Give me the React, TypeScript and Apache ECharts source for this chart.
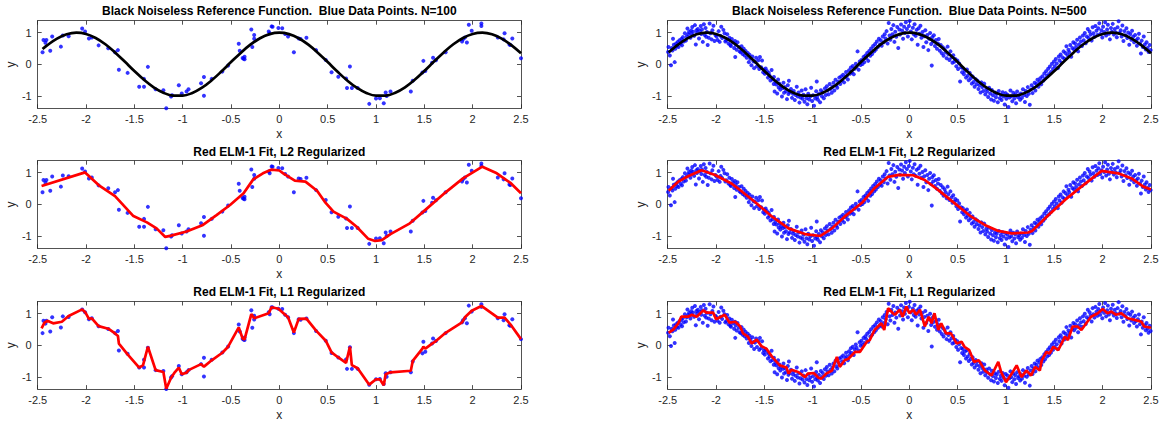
import React, { useEffect, useRef } from "react";
import * as echarts from "echarts";

// ---------- DATA ----------
const titlesLeft = [
  "Black Noiseless Reference Function.  Blue Data Points. N=100",
  "Red ELM-1 Fit, L2 Regularized",
  "Red ELM-1 Fit, L1 Regularized",
];
const titlesRight = [
  "Black Noiseless Reference Function.  Blue Data Points. N=500",
  "Red ELM-1 Fit, L2 Regularized",
  "Red ELM-1 Fit, L1 Regularized",
];
const yTickValues = [-1, 0, 1];

// noiseless reference function samples
const refCurve: [number, number][] = [
  [-2.49, 0.374], [-2.45, 0.484], [-2.4, 0.608], [-2.3, 0.815], [-2.2, 0.95], [-2.1, 1.0],
  [-2.0, 0.96], [-1.9, 0.835], [-1.8, 0.635], [-1.7, 0.378], [-1.6, 0.087], [-1.5, -0.211],
  [-1.4, -0.49], [-1.3, -0.726], [-1.2, -0.897], [-1.1, -0.987], [-1.0, -0.99], [-0.9, -0.904],
  [-0.8, -0.737], [-0.7, -0.505], [-0.6, -0.227], [-0.5, 0.071], [-0.4, 0.362], [-0.3, 0.622],
  [-0.2, 0.825], [-0.1, 0.955], [0, 1.0], [0.1, 0.955], [0.2, 0.825], [0.3, 0.622], [0.4, 0.362],
  [0.5, 0.071], [0.6, -0.227], [0.7, -0.505], [0.8, -0.737], [0.9, -0.904], [1.0, -0.99],
  [1.1, -0.987], [1.2, -0.897], [1.3, -0.726], [1.4, -0.49], [1.5, -0.211], [1.6, 0.087],
  [1.7, 0.378], [1.8, 0.635], [1.9, 0.835], [2.0, 0.96], [2.1, 1.0], [2.2, 0.95], [2.3, 0.815],
  [2.4, 0.608], [2.5, 0.347],
];

// N=100 data points
const leftPts: [number, number][] = [
  [-2.45, 0.38], [-2.44, 0.77], [-2.42, 0.68], [-2.41, 0.77], [-2.37, 0.43], [-2.35, 0.88],
  [-2.26, 0.56], [-2.24, 0.91], [-2.18, 0.89], [-2.04, 1.13], [-2.01, 1.04], [-1.97, 0.82],
  [-1.94, 0.85], [-1.87, 0.6], [-1.77, 0.51], [-1.7, 0.38], [-1.67, 0.45], [-1.66, -0.17],
  [-1.57, -0.27], [-1.45, -0.71], [-1.4, -0.71], [-1.4, -0.46], [-1.36, -0.08], [-1.28, -0.79],
  [-1.2, -0.82], [-1.17, -1.39], [-1.12, -1.02], [-1.11, -0.98], [-1.04, -0.66], [-1.01, -0.92],
  [-0.96, -0.86], [-0.94, -0.79], [-0.81, -0.6], [-0.78, -0.4], [-0.78, -0.99], [-0.7, -0.46],
  [-0.59, -0.23], [-0.53, -0.04], [-0.42, 0.65], [-0.41, 0.43], [-0.38, 0.2], [-0.37, 0.18],
  [-0.36, 0.24], [-0.36, 0.16], [-0.29, 1.1], [-0.28, 0.55], [-0.26, 0.93], [-0.26, 0.81],
  [-0.11, 1.04], [-0.1, 0.98], [-0.08, 1.2], [-0.07, 1.19], [-0.01, 1.15], [0.03, 1.14],
  [0.06, 0.96], [0.09, 0.88], [0.15, 0.38], [0.2, 0.82], [0.22, 0.8], [0.28, 0.84], [0.38, 0.45],
  [0.48, 0.14], [0.54, -0.25], [0.61, -0.39], [0.69, -0.45], [0.7, -0.75], [0.73, -0.07],
  [0.75, -0.75], [0.81, -0.75], [0.93, -1.25], [1.0, -1.08], [1.04, -1.07], [1.08, -1.23],
  [1.1, -0.89], [1.11, -1.0], [1.15, -0.86], [1.36, -0.86], [1.38, -0.52], [1.48, -0.26],
  [1.49, 0.11], [1.51, -0.21], [1.58, 0.05], [1.59, 0.21], [1.62, 0.13], [1.72, 0.38],
  [1.89, 0.72], [1.9, 0.79], [1.92, 0.85], [1.94, 0.69], [1.96, 1.25], [1.99, 1.06], [2.09, 1.21],
  [2.09, 1.29], [2.26, 0.85], [2.32, 0.79], [2.33, 0.98], [2.38, 0.63], [2.39, 0.61],
  [2.41, 0.82], [2.5, 0.19],
];

// N=500 data points
const rightPts: [number, number][] = [
  [-2.496, 0.39], [-2.492, 0.55], [-2.478, 0.28], [-2.466, -0.03], [-2.458, 0.52], [-2.451, 0.44],
  [-2.445, 0.81], [-2.437, 0.62], [-2.428, 0.07], [-2.421, 0.49], [-2.413, 0.66], [-2.404, 0.58],
  [-2.396, 0.71], [-2.388, 0.55], [-2.377, 0.76], [-2.366, 0.65], [-2.358, 0.8], [-2.352, 0.6],
  [-2.343, 0.86], [-2.334, 0.72], [-2.322, 0.98], [-2.311, 0.75], [-2.303, 0.88],
  [-2.296, 1.13], [-2.287, 0.95], [-2.279, 1.02], [-2.265, 0.84], [-2.258, 1.07], [-2.252, 0.96],
  [-2.246, 1.18], [-2.238, 1.03], [-2.226, 0.9], [-2.218, 1.24], [-2.209, 0.63], [-2.203, 1.08],
  [-2.197, 0.99], [-2.188, 1.12], [-2.176, 0.82], [-2.168, 1.05], [-2.158, 1.21], [-2.152, 0.96],
  [-2.146, 1.1], [-2.137, 0.71], [-2.126, 1.27], [-2.117, 0.93], [-2.108, 1.15], [-2.102, 0.87],
  [-2.094, 1.02], [-2.086, 0.61], [-2.075, 0.84], [-2.066, 1.29], [-2.057, 0.98],
  [-2.046, 0.79], [-2.038, 1.08], [-2.027, 1.22], [-2.016, 0.74], [-2.006, 0.93],
  [-1.995, 0.88], [-1.984, 0.77], [-1.973, 1.05], [-1.962, 0.71], [-1.953, 0.9],
  [-1.946, 1.19], [-1.937, 0.83], [-1.924, 1.09], [-1.912, 0.98], [-1.904, 0.72],
  [-1.895, 0.76], [-1.884, 0.95], [-1.871, 0.66], [-1.862, 0.84], [-1.853, 0.61],
  [-1.846, 0.58], [-1.836, 0.8], [-1.825, 0.69], [-1.813, 0.52], [-1.804, 0.74], [-1.801, 0.23],
  [-1.796, 0.62], [-1.787, 0.46], [-1.778, 0.7], [-1.764, 0.55], [-1.756, 0.41],
  [-1.745, 0.38], [-1.736, 0.57], [-1.724, 0.33], [-1.713, 0.49], [-1.704, 0.28],
  [-1.694, 0.42], [-1.683, 0.21], [-1.672, 0.36], [-1.661, 0.07], [-1.653, 0.3],
  [-1.646, 0.18], [-1.634, -0.03], [-1.624, 0.25], [-1.613, 0.1], [-1.606, -0.12],
  [-1.597, 0.08], [-1.585, 0.21], [-1.576, -0.06], [-1.562, 0.13], [-1.553, -0.15],
  [-1.546, 0.23], [-1.533, -0.09], [-1.524, 0.12], [-1.512, -0.25], [-1.503, -0.16],
  [-1.495, -0.3], [-1.486, -0.13], [-1.474, -0.21], [-1.463, -0.42], [-1.454, -0.27],
  [-1.446, -0.36], [-1.437, -0.51], [-1.425, -0.18], [-1.416, -0.47], [-1.403, -0.62], [-1.401, -0.4],
  [-1.394, -0.86], [-1.386, -0.55], [-1.376, -0.64], [-1.367, -0.92], [-1.358, -0.48], [-1.352, -0.73],
  [-1.344, -0.61], [-1.335, -0.8], [-1.326, -0.69], [-1.318, -1.02], [-1.307, -0.75], [-1.302, -0.58],
  [-1.296, -0.9], [-1.287, -0.72], [-1.276, -0.85], [-1.266, -1.1], [-1.257, -0.66], [-1.251, -0.94],
  [-1.246, -0.52], [-1.236, -0.88], [-1.225, -0.78], [-1.214, -1.06], [-1.204, -0.93],
  [-1.196, -0.84], [-1.185, -1.13], [-1.176, -0.97], [-1.165, -0.71], [-1.154, -1.02],
  [-1.146, -0.89], [-1.137, -1.21], [-1.126, -1.05], [-1.114, -0.83], [-1.105, -1.09],
  [-1.096, -0.96], [-1.085, -1.18], [-1.074, -0.79], [-1.064, -1.07], [-1.055, -1.26],
  [-1.046, -0.93], [-1.036, -1.11], [-1.025, -1.02], [-1.016, -0.74], [-1.006, -1.16],
  [-0.996, -0.98], [-0.986, -1.31], [-0.974, -1.08], [-0.964, -0.85], [-0.958, -0.54], [-0.955, -1.03],
  [-0.946, -1.12], [-0.936, -0.94], [-0.924, -1.2], [-0.915, -0.82], [-0.905, -1.01],
  [-0.896, -0.88], [-0.885, -1.07], [-0.874, -0.76], [-0.864, -0.97], [-0.853, -0.69],
  [-0.846, -0.83], [-0.835, -0.95], [-0.824, -0.62], [-0.815, -0.78], [-0.803, -0.9],
  [-0.796, -0.71], [-0.785, -0.58], [-0.776, -0.83], [-0.764, -0.49], [-0.755, -0.67],
  [-0.746, -0.74], [-0.736, -0.55], [-0.725, -0.42], [-0.714, -0.62], [-0.705, -0.38],
  [-0.696, -0.51], [-0.685, -0.33], [-0.675, -0.57], [-0.664, -0.41], [-0.655, -0.24],
  [-0.646, -0.36], [-0.636, -0.48], [-0.624, -0.19], [-0.614, -0.3], [-0.605, -0.1],
  [-0.596, -0.25], [-0.585, -0.05], [-0.575, -0.31], [-0.565, -0.14], [-0.554, 0.02],
  [-0.546, -0.08], [-0.536, 0.41], [-0.525, -0.17], [-0.514, 0.09], [-0.505, -0.02],
  [-0.496, 0.14], [-0.485, 0.01], [-0.474, 0.23], [-0.465, 0.07], [-0.454, 0.28],
  [-0.446, 0.19], [-0.436, 0.36], [-0.425, 0.11], [-0.415, 0.42], [-0.404, 0.27],
  [-0.396, 0.5], [-0.385, 0.33], [-0.375, 0.58], [-0.364, 0.41], [-0.354, 0.64],
  [-0.346, 0.47], [-0.336, 0.72], [-0.325, 0.55], [-0.315, 0.81], [-0.304, 0.63],
  [-0.296, 0.76], [-0.286, 0.59], [-0.275, 0.88], [-0.264, 0.7], [-0.255, 0.95],
  [-0.246, 0.82], [-0.236, 1.05], [-0.225, 0.66], [-0.214, 1.31], [-0.205, 0.91],
  [-0.196, 0.78], [-0.186, 1.12], [-0.175, 0.95], [-0.165, 1.24], [-0.154, 0.71],
  [-0.146, 1.03], [-0.135, 0.87], [-0.125, 1.18], [-0.115, 0.52], [-0.104, 1.1],
  [-0.096, 0.94], [-0.086, 1.26], [-0.075, 1.07], [-0.065, 0.81], [-0.054, 1.19],
  [-0.046, 0.99], [-0.036, 1.33], [-0.025, 1.12], [-0.015, 0.88], [-0.004, 1.21],
  [0.004, 1.37], [0.015, 1.04], [0.025, 0.79], [0.036, 1.16], [0.046, 0.95],
  [0.054, 1.27], [0.065, 0.9], [0.075, 1.09], [0.086, 0.62], [0.096, 1.14],
  [0.104, 0.97], [0.115, 1.22], [0.125, 0.84], [0.136, 1.02], [0.146, 0.55],
  [0.154, 0.89], [0.165, 1.08], [0.175, 0.7], [0.186, 0.93], [0.196, 0.45],
  [0.204, 0.81], [0.215, 0.99], [0.225, 0.64], [0.232, -0.04], [0.236, 0.86], [0.246, 0.72],
  [0.254, 0.92], [0.265, 0.58], [0.275, 0.77], [0.286, 0.49], [0.296, 0.66],
  [0.304, 0.8], [0.315, 0.43], [0.325, 0.61], [0.336, 0.35], [0.346, 0.54],
  [0.354, 0.27], [0.365, 0.48], [0.375, 0.38], [0.386, 0.19], [0.396, 0.56],
  [0.404, 0.32], [0.415, 0.14], [0.425, 0.41], [0.436, 0.22], [0.446, 0.05],
  [0.454, 0.29], [0.465, 0.08], [0.475, 0.17], [0.486, -0.06], [0.496, 0.12],
  [0.504, -0.15], [0.515, 0.03], [0.525, -0.54], [0.536, -0.09], [0.546, -0.25],
  [0.554, -0.12], [0.565, -0.31], [0.575, -0.2], [0.586, -0.42], [0.596, -0.16],
  [0.604, -0.36], [0.615, -0.5], [0.625, -0.27], [0.636, -0.44], [0.646, -0.61],
  [0.654, -0.38], [0.665, -0.56], [0.675, -0.71], [0.686, -0.47], [0.696, -0.63],
  [0.704, -0.52], [0.715, -0.78], [0.725, -0.66], [0.736, -0.89], [0.746, -0.57],
  [0.754, -0.72], [0.765, -0.84], [0.775, -0.61], [0.786, -0.95], [0.796, -0.77],
  [0.804, -0.86], [0.815, -1.03], [0.825, -0.74], [0.836, -0.92], [0.846, -1.11],
  [0.854, -0.81], [0.865, -0.98], [0.875, -1.15], [0.886, -0.89], [0.896, -1.04],
  [0.904, -0.93], [0.915, -1.2], [0.925, -0.84], [0.936, -1.07], [0.946, -0.97],
  [0.954, -1.13], [0.965, -0.88], [0.975, -1.02], [0.986, -1.27], [0.996, -0.91],
  [1.004, -1.09], [1.015, -0.96], [1.025, -1.35], [1.036, -1.05], [1.046, -0.83],
  [1.054, -1.01], [1.065, -1.17], [1.075, -0.9], [1.086, -1.08], [1.096, -0.95],
  [1.104, -1.23], [1.115, -0.86], [1.125, -1.04], [1.136, -0.98], [1.146, -1.12],
  [1.154, -0.92], [1.165, -1.06], [1.175, -0.79], [1.186, -0.97], [1.196, -1.19],
  [1.204, -0.84], [1.215, -1.0], [1.225, -0.72], [1.236, -0.93], [1.246, -1.28],
  [1.254, -0.8], [1.265, -0.66], [1.275, -0.91], [1.286, -0.74], [1.296, -0.58],
  [1.304, -0.83], [1.315, -0.62], [1.325, -0.49], [1.336, -0.71], [1.346, -0.55],
  [1.354, -0.44], [1.365, -0.63], [1.375, -0.38], [1.386, -0.52], [1.396, -0.29],
  [1.404, -0.45], [1.415, -0.22], [1.425, -0.36], [1.436, -0.14], [1.446, -0.31],
  [1.454, -0.07], [1.465, -0.24], [1.475, 0.02], [1.486, -0.15], [1.496, 0.09],
  [1.504, -0.06], [1.515, 0.17], [1.525, 0.03], [1.536, -0.12], [1.546, 0.25],
  [1.554, 0.12], [1.565, 0.31], [1.575, 0.05], [1.586, 0.22], [1.596, 0.41],
  [1.604, 0.18], [1.615, 0.36], [1.625, 0.57], [1.636, 0.29], [1.646, 0.46],
  [1.654, 0.38], [1.665, 0.61], [1.675, 0.24], [1.686, 0.52], [1.696, 0.7],
  [1.704, 0.47], [1.715, 0.66], [1.725, 0.55], [1.736, 0.78], [1.746, 0.41],
  [1.754, 0.63], [1.765, 0.85], [1.775, 0.72], [1.786, 0.58], [1.796, 0.91],
  [1.804, 0.76], [1.815, 0.99], [1.825, 0.67], [1.836, 0.88], [1.846, 1.12],
  [1.854, 0.83], [1.865, 1.04], [1.875, 0.94], [1.886, 0.75], [1.896, 1.17],
  [1.904, 0.98], [1.915, 0.87], [1.925, 1.21], [1.936, 1.06], [1.946, 0.93],
  [1.954, 1.14], [1.965, 1.3], [1.975, 0.96], [1.986, 1.08], [1.996, 0.85],
  [2.004, 1.19], [2.015, 1.02], [2.025, 1.33], [2.036, 0.91], [2.046, 1.1],
  [2.054, 1.25], [2.065, 0.97], [2.075, 0.79], [2.086, 1.15], [2.096, 1.03],
  [2.104, 1.28], [2.115, 0.94], [2.125, 1.12], [2.136, 1.01], [2.146, 0.86],
  [2.154, 1.17], [2.165, 1.36], [2.175, 0.99], [2.186, 1.08], [2.196, 0.88],
  [2.204, 1.23], [2.215, 0.74], [2.225, 1.05], [2.236, 0.92], [2.246, 1.14],
  [2.254, 0.83], [2.265, 1.01], [2.275, 0.62], [2.286, 0.96], [2.296, 0.78],
  [2.304, 1.06], [2.315, 0.87], [2.325, 0.7], [2.336, 0.93], [2.346, 0.76],
  [2.354, 0.59], [2.365, 0.82], [2.375, 0.97], [2.386, 0.66], [2.396, 0.34],
  [2.404, 0.75], [2.415, 0.55], [2.425, 0.88], [2.436, 0.63], [2.446, 0.47],
  [2.454, 0.7], [2.465, 0.52], [2.475, 0.39], [2.486, 0.61], [2.496, 0.45],
];

// ELM fits (red lines), vertices
const leftL2: [number, number][] = [
  [-2.46, 0.58], [-2.01, 1.01], [-1.87, 0.61], [-1.7, 0.26], [-1.51, -0.37], [-1.37, -0.57],
  [-1.27, -0.76], [-1.18, -1.03], [-1.12, -0.99], [-0.96, -0.86], [-0.79, -0.65], [-0.65, -0.34],
  [-0.51, -0.02], [-0.37, 0.35], [-0.27, 0.79], [-0.17, 0.98], [-0.08, 1.1], [0.0, 1.07],
  [0.04, 0.98], [0.16, 0.75], [0.27, 0.72], [0.39, 0.43], [0.47, 0.08], [0.56, -0.23],
  [0.7, -0.46], [0.8, -0.71], [0.92, -1.09], [0.99, -1.16], [1.06, -1.13], [1.15, -0.94],
  [1.35, -0.6], [1.49, -0.23], [1.72, 0.38], [1.9, 0.82], [2.1, 1.19], [2.25, 0.98],
  [2.39, 0.68], [2.5, 0.35],
];
const leftL1: [number, number][] = [
  [-2.46, 0.53], [-2.43, 0.71], [-2.4, 0.77], [-2.34, 0.69], [-2.25, 0.74], [-2.18, 0.92],
  [-2.04, 1.13], [-2.01, 1.05], [-1.97, 0.83], [-1.94, 0.85], [-1.87, 0.6], [-1.77, 0.52],
  [-1.7, 0.37], [-1.67, 0.29], [-1.66, 0.05], [-1.57, -0.29], [-1.45, -0.71], [-1.41, -0.63],
  [-1.36, -0.05], [-1.28, -0.79], [-1.2, -0.85], [-1.17, -1.38], [-1.12, -1.03], [-1.08, -0.85],
  [-1.04, -0.71], [-1.01, -0.92], [-0.96, -0.87], [-0.94, -0.79], [-0.81, -0.6], [-0.78, -0.68],
  [-0.7, -0.48], [-0.59, -0.24], [-0.53, -0.05], [-0.42, 0.56], [-0.38, 0.21], [-0.36, 0.18],
  [-0.29, 0.98], [-0.26, 0.85], [-0.11, 1.01], [-0.08, 1.2], [-0.01, 1.15], [0.06, 0.96],
  [0.09, 0.88], [0.15, 0.4], [0.2, 0.83], [0.28, 0.84], [0.38, 0.46], [0.48, 0.14],
  [0.54, -0.23], [0.61, -0.39], [0.69, -0.56], [0.73, -0.05], [0.75, -0.63], [0.81, -0.73],
  [0.93, -1.25], [1.0, -1.08], [1.04, -1.08], [1.08, -1.27], [1.1, -0.92], [1.15, -0.86],
  [1.36, -0.81], [1.38, -0.5], [1.48, -0.11], [1.49, -0.05], [1.51, -0.11], [1.58, 0.05],
  [1.62, 0.13], [1.72, 0.39], [1.89, 0.72], [1.92, 0.88], [1.99, 1.09], [2.09, 1.24],
  [2.26, 0.87], [2.33, 0.87], [2.39, 0.66], [2.5, 0.19],
];
const rightL2: [number, number][] = [
  [-2.49, 0.43], [-2.39, 0.72], [-2.29, 0.89], [-2.15, 1.08], [-2.01, 0.93], [-1.84, 0.66],
  [-1.73, 0.4], [-1.6, 0.08], [-1.42, -0.39], [-1.25, -0.76], [-1.08, -0.94], [-0.92, -1.0],
  [-0.8, -0.76], [-0.67, -0.39], [-0.49, 0.05], [-0.36, 0.51], [-0.22, 0.87], [-0.11, 0.93],
  [0.04, 0.92], [0.16, 0.77], [0.3, 0.45], [0.47, 0.03], [0.64, -0.39], [0.78, -0.65],
  [0.92, -0.84], [1.06, -0.92], [1.23, -0.89], [1.27, -0.84], [1.44, -0.34], [1.61, 0.14],
  [1.78, 0.56], [1.99, 1.06], [2.16, 0.98], [2.3, 0.82], [2.42, 0.56], [2.5, 0.47],
];
const rightL1: [number, number][] = [
  [-2.49, 0.39], [-2.44, 0.5], [-2.39, 0.69], [-2.36, 0.9], [-2.29, 0.9], [-2.25, 0.96],
  [-2.2, 0.9], [-2.13, 1.1], [-2.1, 1.03], [-2.03, 1.03], [-2.0, 0.82], [-1.91, 0.96],
  [-1.86, 0.71], [-1.8, 0.74], [-1.75, 0.59], [-1.72, 0.37], [-1.67, 0.27], [-1.63, 0.05],
  [-1.58, 0.18], [-1.53, -0.03], [-1.48, -0.11], [-1.42, -0.37], [-1.34, -0.64], [-1.27, -0.71],
  [-1.25, -0.9], [-1.22, -0.78], [-1.15, -0.85], [-1.08, -1.01], [-1.05, -0.9], [-0.99, -0.88],
  [-0.94, -1.03], [-0.91, -1.06], [-0.86, -0.9], [-0.8, -0.8], [-0.75, -0.37], [-0.72, -0.69],
  [-0.67, -0.48], [-0.63, -0.43], [-0.56, -0.21], [-0.51, -0.21], [-0.44, 0.11], [-0.41, 0.16],
  [-0.36, 0.48], [-0.29, 0.69], [-0.26, 0.48], [-0.22, 1.17], [-0.17, 1.01], [-0.15, 0.96],
  [-0.1, 1.12], [-0.07, 0.9], [-0.03, 1.22], [0.0, 1.01], [0.04, 1.12], [0.07, 0.96],
  [0.11, 1.12], [0.16, 0.59], [0.2, 0.9], [0.23, 0.69], [0.26, 1.01], [0.3, 0.48],
  [0.33, 0.69], [0.38, 0.37], [0.43, 0.37], [0.49, 0.05], [0.54, 0.11], [0.57, -0.05],
  [0.62, -0.16], [0.67, -0.53], [0.72, -0.48], [0.78, -0.8], [0.85, -0.96], [0.92, -0.53],
  [0.95, -0.85], [1.0, -1.17], [1.06, -0.9], [1.11, -0.64], [1.16, -1.01], [1.21, -0.8],
  [1.26, -0.96], [1.3, -0.69], [1.35, -0.8], [1.37, -0.48], [1.42, -0.21], [1.45, -0.27],
  [1.49, -0.05], [1.54, -0.16], [1.61, 0.27], [1.64, 0.16], [1.69, 0.59], [1.74, 0.59],
  [1.78, 0.48], [1.83, 0.69], [1.88, 0.9], [1.95, 1.01], [2.0, 1.14], [2.05, 1.01],
  [2.09, 1.06], [2.14, 0.96], [2.19, 1.01], [2.26, 0.85], [2.33, 0.8], [2.4, 0.74],
  [2.43, 0.59], [2.5, 0.55],
];

// ---------- LAYOUT ----------
const W = 1162;
const H = 423;
const colLeft = [37.7, 667.7];
const plotW = 483.3;
const rowTop = [20.7, 160.7, 301.5];
const plotH = 87.6;
const titleY = [11, 152, 292];
const FONT = 'Helvetica, Arial, "Liberation Sans", sans-serif';
const AXC = "#262626";

export default function App() {
  const ref = useRef<HTMLDivElement>(null);

  useEffect(() => {
    if (!ref.current) return;
    const chart = echarts.init(ref.current, undefined, { renderer: "svg" });

    const grids: any[] = [];
    const xAxes: any[] = [];
    const yAxes: any[] = [];
    const series: any[] = [];
    const graphics: any[] = [];

    const lineColorSets = [
      { data: [refCurve.slice(1), refCurve], color: "#000000" },
      { data: [leftL2, rightL2], color: "#ff0000" },
      { data: [leftL1, rightL1], color: "#ff0000" },
    ];

    for (let r = 0; r < 3; r++) {
      for (let c = 0; c < 2; c++) {
        const gi = grids.length;
        grids.push({
          left: colLeft[c],
          top: rowTop[r],
          width: plotW,
          height: plotH,
          show: false,
        });
        const axLine = { show: true, onZero: false, lineStyle: { color: AXC, width: 0.8 } };
        const baseX = {
          type: "value",
          gridIndex: gi,
          min: -2.5,
          max: 2.5,
          interval: 0.5,
          splitLine: { show: false },
          axisLine: axLine,
          axisTick: { show: true, inside: true, length: 4, lineStyle: { color: AXC, width: 0.8 } },
        };
        xAxes.push({
          ...baseX,
          position: "bottom",
          name: "x",
          nameLocation: "middle",
          nameGap: 20,
          nameTextStyle: { color: AXC, fontSize: 12, fontFamily: FONT },
          axisLabel: {
            show: true,
            margin: 5,
            color: AXC,
            fontSize: 11,
            fontFamily: FONT,
            showMinLabel: true,
            showMaxLabel: true,
          },
        });
        xAxes.push({ ...baseX, position: "top", axisLabel: { show: false } });

        const baseY = {
          type: "value",
          gridIndex: gi,
          min: -1.39,
          max: 1.38,
          splitLine: { show: false },
          axisLine: axLine,
          axisTick: {
            show: true,
            inside: true,
            length: 4,
            customValues: yTickValues,
            lineStyle: { color: AXC, width: 0.8 },
          },
        };
        yAxes.push({
          ...baseY,
          position: "left",
          name: "y",
          nameLocation: "middle",
          nameGap: 21,
          nameTextStyle: { color: AXC, fontSize: 12, fontFamily: FONT },
          axisLabel: {
            show: true,
            margin: 6,
            color: AXC,
            fontSize: 11,
            fontFamily: FONT,
            customValues: yTickValues,
          },
        });
        yAxes.push({ ...baseY, position: "right", axisLabel: { show: false } });

        const xi = gi * 2;
        series.push({
          type: "scatter",
          xAxisIndex: xi,
          yAxisIndex: xi,
          data: c === 0 ? leftPts : rightPts,
          symbol: "circle",
          symbolSize: 4,
          itemStyle: { color: "#0000ff" },
          silent: true,
          z: 2,
        });
        series.push({
          type: "line",
          xAxisIndex: xi,
          yAxisIndex: xi,
          data: lineColorSets[r].data[c],
          showSymbol: false,
          smooth: r === 0 ? 0.4 : false,
          lineStyle: { color: lineColorSets[r].color, width: 2.7 },
          silent: true,
          clip: true,
          z: 3,
        });

        graphics.push({
          type: "text",
          x: colLeft[c] + plotW / 2,
          y: titleY[r],
          style: {
            text: (c === 0 ? titlesLeft : titlesRight)[r],
            fill: "#000",
            font: `bold 12px ${FONT}`,
            textAlign: "center",
            textVerticalAlign: "middle",
          },
        });
      }
    }

    chart.setOption({
      animation: false,
      backgroundColor: "#ffffff",
      grid: grids,
      xAxis: xAxes,
      yAxis: yAxes,
      series,
      graphic: graphics,
    });

    return () => chart.dispose();
  }, []);

  return (
    <div
      ref={ref}
      style={{ position: "fixed", left: 0, top: 0, width: W, height: H, background: "#fff" }}
    />
  );
}
